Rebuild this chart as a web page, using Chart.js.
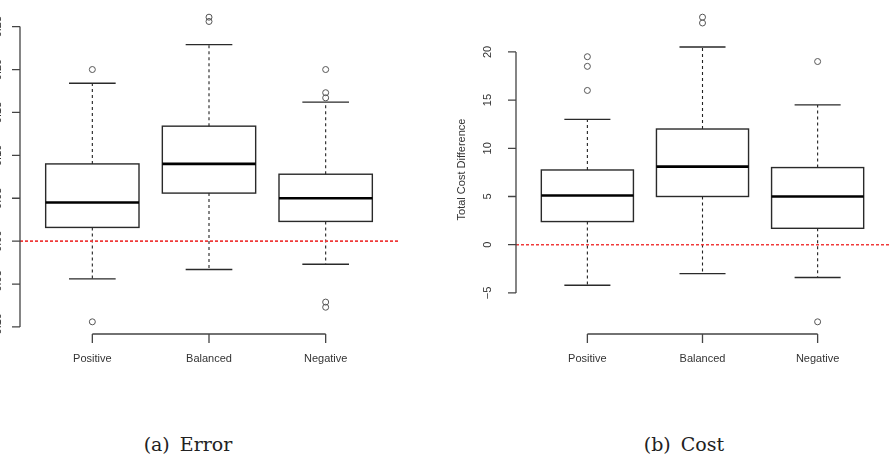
<!DOCTYPE html>
<html>
<head>
<meta charset="utf-8">
<script src="https://cdn.jsdelivr.net/npm/chart.js@4.4.1/dist/chart.umd.min.js"></script>
<style>
    html, body { margin: 0; padding: 0; background: #fff; overflow: hidden; }
    #wrap { position: relative; width: 893px; height: 454px; overflow: hidden; }
    canvas { position: absolute; top: 0; }
    #errorChart { left: 0; }
    #costChart { left: 446px; }
    .caption {
        position: absolute; top: 433px; width: 200px; text-align: center;
        font-family: "DejaVu Serif", "Liberation Serif", serif; font-size: 19px; color: #222;
        word-spacing: 4px;
    }
</style>
</head>
<body>
<div id="wrap">
    <canvas id="errorChart" width="446" height="380"></canvas>
    <canvas id="costChart" width="448" height="380"></canvas>
    <div class="caption" style="left:88px">(a) Error</div>
    <div class="caption" style="left:584px">(b) Cost</div>
</div>
<script>
const categories = ['Positive', 'Balanced', 'Negative'];

// (a) Error
const errorLowWhisker = [-0.044, -0.033, -0.027];
const errorQ1 = [0.016, 0.056, 0.023];
const errorMedian = [0.045, 0.090, 0.050];
const errorQ3 = [0.090, 0.134, 0.078];
const errorHighWhisker = [0.184, 0.229, 0.162];
const errorOutliers = [[0.200, -0.094], [0.261, 0.256], [0.200, 0.173, 0.167, -0.071, -0.077]];
const errorTicks = [-0.10, -0.05, 0.00, 0.05, 0.10, 0.15, 0.20, 0.25];

// (b) Cost
const costLowWhisker = [-4.2, -3.0, -3.4];
const costQ1 = [2.4, 5.0, 1.7];
const costMedian = [5.1, 8.1, 5.0];
const costQ3 = [7.75, 12.0, 8.0];
const costHighWhisker = [13.0, 20.5, 14.5];
const costOutliers = [[19.5, 18.5, 16.0], [23.6, 23.0], [19.0, -8.0]];
const costTicks = [-5, 0, 5, 10, 15, 20];

const FONT = '"Liberation Sans", Arial, Helvetica, sans-serif';
const X_MIN = 0.38, X_MAX = 3.62;

// R style: whiskers dashed, box outline, thick median
const boxPlugin = {
    id: 'rBoxes',
    beforeDatasetsDraw(chart, args, opts) {
        const { ctx } = chart;
        const x = chart.scales.x, y = chart.scales.y;
        opts.median.forEach((med, i) => {
            const c = i + 1;
            const xl = x.getPixelForValue(c - 0.4), xr = x.getPixelForValue(c + 0.4);
            const cl = x.getPixelForValue(c - 0.2), cr = x.getPixelForValue(c + 0.2);
            const xc = x.getPixelForValue(c);
            const yq1 = y.getPixelForValue(opts.q1[i]), yq3 = y.getPixelForValue(opts.q3[i]);
            const ylo = y.getPixelForValue(opts.low[i]), yhi = y.getPixelForValue(opts.high[i]);
            ctx.save();
            ctx.strokeStyle = '#222';
            ctx.lineWidth = 1.1;
            ctx.setLineDash([3, 3]);
            ctx.beginPath();
            ctx.moveTo(xc, yq3); ctx.lineTo(xc, yhi);
            ctx.moveTo(xc, yq1); ctx.lineTo(xc, ylo);
            ctx.stroke();
            ctx.setLineDash([]);
            ctx.lineWidth = 1.4;
            ctx.strokeStyle = '#2a2a2a';
            ctx.beginPath();
            ctx.moveTo(cl, yhi); ctx.lineTo(cr, yhi);
            ctx.moveTo(cl, ylo); ctx.lineTo(cr, ylo);
            ctx.stroke();
            ctx.strokeRect(xl, yq3, xr - xl, yq1 - yq3);
            ctx.lineWidth = 2.6;
            ctx.strokeStyle = '#000';
            ctx.beginPath();
            ctx.moveTo(xl, y.getPixelForValue(med)); ctx.lineTo(xr, y.getPixelForValue(med));
            ctx.stroke();
            ctx.restore();
        });
    },
    afterDraw(chart, args, opts) {
        const { ctx, chartArea } = chart;
        const x = chart.scales.x, y = chart.scales.y;
        ctx.save();
        ctx.strokeStyle = '#444';
        ctx.fillStyle = '#333';
        ctx.lineWidth = 1.3;
        ctx.font = '11px ' + FONT;
        // y axis
        const left = chartArea.left;
        const yTop = y.getPixelForValue(opts.ticks[opts.ticks.length - 1]);
        const yBot = y.getPixelForValue(opts.ticks[0]);
        ctx.beginPath();
        ctx.moveTo(left, yTop); ctx.lineTo(left, yBot);
        opts.ticks.forEach(t => {
            const py = y.getPixelForValue(t);
            ctx.moveTo(left - 8, py); ctx.lineTo(left, py);
        });
        ctx.stroke();
        ctx.textAlign = 'center';
        ctx.textBaseline = 'middle';
        opts.ticks.forEach(t => {
            const py = y.getPixelForValue(t);
            ctx.save();
            ctx.translate(left - opts.labelOffset, py);
            ctx.rotate(-Math.PI / 2);
            ctx.fillText(opts.format(t), 0, 0);
            ctx.restore();
        });
        if (opts.title) {
            ctx.save();
            ctx.translate(left - 54, (chartArea.top + chartArea.bottom) / 2);
            ctx.rotate(-Math.PI / 2);
            ctx.fillText(opts.title, 0, 0);
            ctx.restore();
        }
        // x axis
        const bottom = chartArea.bottom;
        ctx.beginPath();
        ctx.moveTo(x.getPixelForValue(1), bottom); ctx.lineTo(x.getPixelForValue(categories.length), bottom);
        categories.forEach((c, i) => {
            const px = x.getPixelForValue(i + 1);
            ctx.moveTo(px, bottom); ctx.lineTo(px, bottom + 9);
        });
        ctx.stroke();
        categories.forEach((c, i) => {
            ctx.fillText(c, x.getPixelForValue(i + 1), bottom + 25);
        });
        ctx.restore();
    }
};

const yLimits = (low, high, outliers) => {
    const all = low.concat(high, outliers.flat());
    const mn = Math.min(...all), mx = Math.max(...all);
    const pad = (mx - mn) * 0.04;
    return { min: mn - pad, max: mx + pad };
};

const makeBoxChart = (canvasId, padding, d) => {
    const lim = yLimits(d.low, d.high, d.outliers);
    const outlierPoints = [];
    d.outliers.forEach((vals, i) => vals.forEach(v => outlierPoints.push({ x: i + 1, y: v })));
    return new Chart(document.getElementById(canvasId), {
        type: 'scatter',
        data: {
            datasets: [
                {
                    type: 'line',
                    data: [{ x: X_MIN, y: 0 }, { x: X_MAX, y: 0 }],
                    borderColor: '#f03a3a',
                    borderWidth: 1.6,
                    borderDash: [3, 2],
                    pointRadius: 0
                },
                {
                    data: outlierPoints,
                    pointStyle: 'circle',
                    pointRadius: 3,
                    borderColor: '#555',
                    borderWidth: 1,
                    backgroundColor: 'rgba(0,0,0,0)'
                }
            ]
        },
        options: {
            responsive: false,
            animation: false,
            events: [],
            layout: { padding },
            scales: {
                x: { type: 'linear', min: X_MIN, max: X_MAX, display: false },
                y: { type: 'linear', min: lim.min, max: lim.max, display: false }
            },
            plugins: {
                legend: { display: false },
                tooltip: { enabled: false },
                rBoxes: {
                    low: d.low, q1: d.q1, median: d.median, q3: d.q3, high: d.high,
                    ticks: d.ticks, labelOffset: d.labelOffset, title: d.title, format: d.format
                }
            }
        },
        plugins: [boxPlugin]
    });
};

makeBoxChart('errorChart', { left: 20, top: 5, right: 48, bottom: 46 }, {
    low: errorLowWhisker, q1: errorQ1, median: errorMedian, q3: errorQ3, high: errorHighWhisker,
    outliers: errorOutliers, ticks: errorTicks, labelOffset: 22, title: null,
    format: t => (t < 0 ? '\u2212' : '') + Math.abs(t).toFixed(2)
});

makeBoxChart('costChart', { left: 70, top: 3, right: 0, bottom: 46 }, {
    low: costLowWhisker, q1: costQ1, median: costMedian, q3: costQ3, high: costHighWhisker,
    outliers: costOutliers, ticks: costTicks, labelOffset: 28, title: 'Total Cost Difference',
    format: t => (t < 0 ? '\u2212' : '') + Math.abs(t)
});
</script>
</body>
</html>
